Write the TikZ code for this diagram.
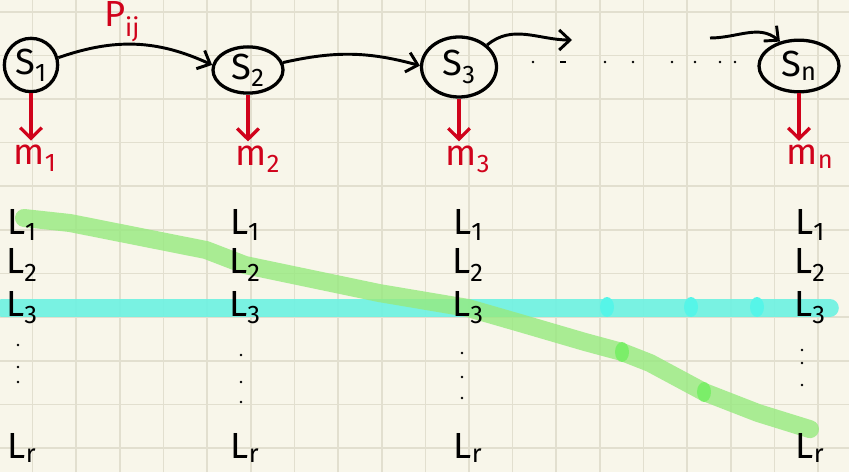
\documentclass[tikz,border=0pt]{standalone}
\usepackage{fontspec}
\setmainfont{Fira Sans}
\usetikzlibrary{arrows.meta,shapes.geometric}
\definecolor{paper}{HTML}{F8F6EA}
\definecolor{gridcol}{HTML}{E2DFCF}
\definecolor{inkred}{HTML}{D0021B}
\definecolor{bandcyan}{HTML}{6CF2E2}
\definecolor{bandgreen}{HTML}{96EA7E}
\pgfdeclarelayer{background}
\pgfsetlayers{background,main}

\begin{document}
\begin{tikzpicture}[x=0.03cm,y=0.03cm,state/.style={ellipse,draw,line width=2.8pt,minimum width=19mm,minimum height=14.5mm,inner sep=0pt,font=\fontsize{31}{33}\selectfont},flow/.style={line width=2.5pt,-{Straight Barb[length=3.2mm,width=6mm,line width=2.5pt]}},emit/.style={inkred,line width=2.8pt,-{Straight Barb[length=3.2mm,width=6.5mm,line width=2.8pt]}},mlab/.style={text=inkred,font=\fontsize{31}{33}\selectfont},llab/.style={font=\fontsize{31}{33}\selectfont},gridline/.style={gridcol,line width=1.4pt},band/.style={line width=0.54cm,line cap=round,line join=round}]
\useasboundingbox (0,0) rectangle (849,472);
\coordinate (c3) at (572,432);
\coordinate (cn) at (710,434);
\coordinate (bend1) at (70,249);
\coordinate (bend2) at (206,222);
\coordinate (bend3) at (379,179);
\coordinate (bend4) at (520,149);
\coordinate (bend5) at (585,130);
\coordinate (bend6) at (622,120);
\coordinate (bend7) at (650,109);
\coordinate (bend8) at (704,80);
\coordinate (bend9) at (758,59);
\node[state,minimum width=16mm,minimum height=16mm] (s1) at (31,407) {S\textsubscript{1}};
\node[state,minimum width=21mm,minimum height=13.5mm] (s2) at (248,402) {S\textsubscript{2}};
\node[state,minimum width=22.5mm,minimum height=18mm] (s3) at (459,405) {S\textsubscript{3}};
\node[state,minimum width=24mm,minimum height=15.5mm] (sn) at (799,406) {S\textsubscript{n}};
\node[mlab] (m1) at (35,314) {m\textsubscript{1}};
\node[mlab] (m2) at (258,313) {m\textsubscript{2}};
\node[mlab] (m3) at (468,313) {m\textsubscript{3}};
\node[mlab] (mn) at (810,315) {m\textsubscript{n}};
\node[mlab] (pij) at (122,450) {P\textsubscript{ij}};
\draw[flow] (s1.15) to[bend left=22] (s2.172);
\draw[flow] (s2.12) to[bend left=14] (s3.178);
\draw[flow] (s3.38) to[out=40,in=180] (c3);
\draw[flow] (cn) to[out=0,in=140] (sn.128);
\draw[emit] (s1.south) -- (s1.south |- m1.north);
\draw[emit] (s2.south) -- (s2.south |- m2.north);
\draw[emit] (s3.south) -- (s3.south |- m3.north);
\draw[emit] (sn.south) -- (sn.south |- mn.north);
\foreach \x in {533,605,633,672,695,720,735}
  \fill (\x,410) circle (1.4);
\draw[line width=1.3pt] (560,410) -- (566,410);
\node[llab] (l11) at (22,247) {L\textsubscript{1}};
\node[llab] (l12) at (22,207) {L\textsubscript{2}};
\node[llab] (l13) at (22,164) {L\textsubscript{3}};
\node[llab] (l1r) at (22,24) {L\textsubscript{r}};
\node[llab] (l21) at (245,247) {L\textsubscript{1}};
\node[llab] (l22) at (245,207) {L\textsubscript{2}};
\node[llab] (l23) at (245,164) {L\textsubscript{3}};
\node[llab] (l2r) at (245,24) {L\textsubscript{r}};
\node[llab] (l31) at (468,247) {L\textsubscript{1}};
\node[llab] (l32) at (468,207) {L\textsubscript{2}};
\node[llab] (l33) at (468,164) {L\textsubscript{3}};
\node[llab] (l3r) at (468,24) {L\textsubscript{r}};
\node[llab] (l41) at (810,247) {L\textsubscript{1}};
\node[llab] (l42) at (810,207) {L\textsubscript{2}};
\node[llab] (l43) at (810,164) {L\textsubscript{3}};
\node[llab] (l4r) at (810,24) {L\textsubscript{r}};
\foreach \x/\a/\b/\c in {18/127/105/90,241/117/90/70,462/119/95/74,802/122/109/87}{
  \fill (\x,\a) circle (1.4);
  \fill (\x,\b) circle (1.4);
  \fill (\x,\c) circle (1.4);
}
\begin{pgfonlayer}{background}
\fill[paper] (0,0) rectangle (849,472);
\foreach \i in {0,...,18}
  \draw[gridline] ({32.5+\i*43.65},0) -- ++(0,472);
\foreach \j in {0,...,10}
  \draw[gridline] (0,{460.3-\j*43.65}) -- ++(849,0);
\draw[band,bandcyan,opacity=0.9] (l13.west) -- (l43.east);
\foreach \x in {607,691,757}
  \fill[bandcyan!80!cyan] (\x,165) ellipse (7 and 10);
\draw[band,bandgreen,opacity=0.8] (24,254) -- (bend1) -- (bend2) -- (l22.center) -- (bend3) -- (l33.center) -- (bend4) -- (bend5) -- (bend6) -- (bend7) -- (bend8) -- (bend9) -- (l4r.north);
\foreach \p in {bend6,bend8}
  \fill[bandgreen!75!green,opacity=0.8] (\p) ellipse (7 and 10);
\end{pgfonlayer}
\end{tikzpicture}
\end{document}
